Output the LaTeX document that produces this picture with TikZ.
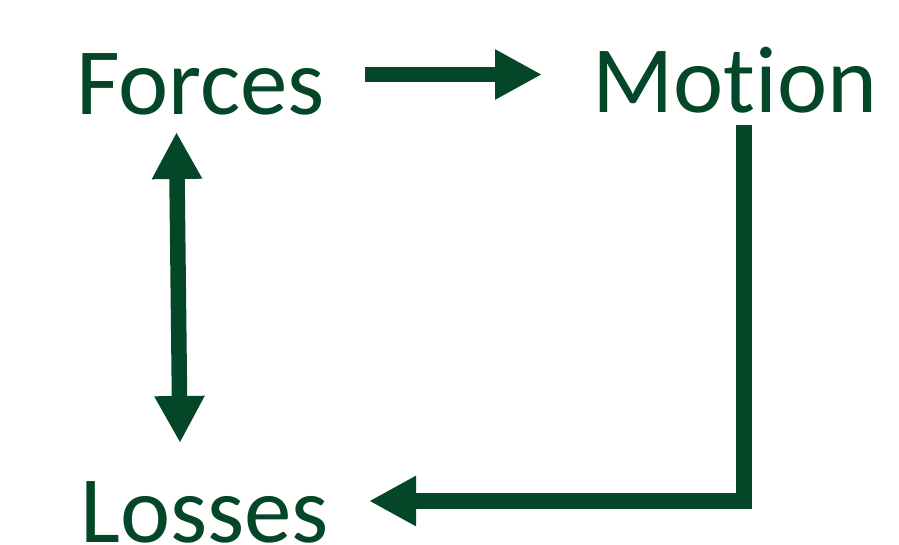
\documentclass[tikz,border=0pt]{standalone}
\usepackage{fontspec}
\setmainfont{Carlito}[Ligatures=NoCommon]
\usetikzlibrary{arrows.meta}
\definecolor{forest}{RGB}{4,70,40}
\tikzset{
  word/.style={text=forest, font=\fontsize{95}{95}\selectfont, inner sep=0pt, anchor=base west},
  flow/.style={draw=forest, line width=15.5pt, line join=miter, line cap=butt},
  tip/.style={-{Triangle[length=47pt,width=47pt]}},
  tips/.style={{Triangle[length=47pt,width=47pt]}-{Triangle[length=47pt,width=47pt]}}
}
\begin{document}
\begin{tikzpicture}[x=1pt,y=-1pt]
  \useasboundingbox (0,0) rectangle (899,544);
  % the three quantities
  \node[word] (forces) at (76,114) {Forces};
  \node[word] (motion) at (592,112) {Motion};
  \node[word] (losses) at (80,542) {Losses};
  % end points of the connectors
  \coordinate (fm1) at (365,74.5);
  \coordinate (fm2) at (542,74.5);
  \coordinate (fl1) at (176.5,132);
  \coordinate (fl2) at (180,443);
  \coordinate (ml1) at (744,125);
  \coordinate (ml2) at (369,501);
  % forces drive motion
  \draw[flow,tip] (fm1) -- (fm2);
  % forces and losses act on each other
  \draw[flow,tips] (fl1) -- (fl2);
  % motion leads to losses
  \draw[flow,tip] (ml1) |- (ml2);
\end{tikzpicture}
\end{document}
